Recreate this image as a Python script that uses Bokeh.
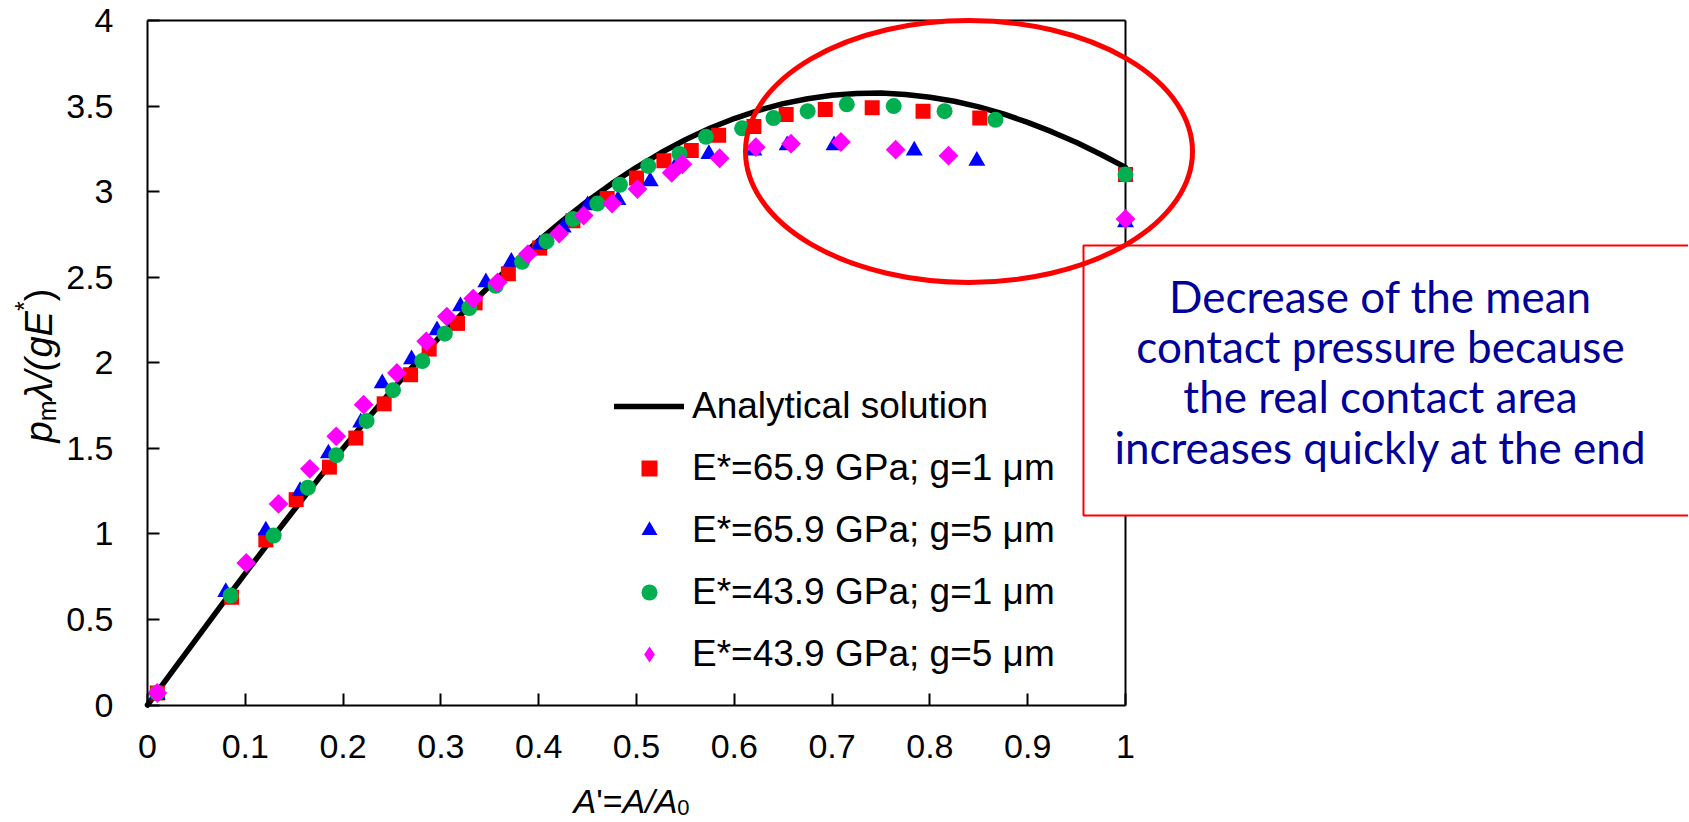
import math
from bokeh.plotting import figure
from bokeh.models import (Range1d, LinearAxis, FixedTicker, CustomJSTickFormatter,
                          BoxAnnotation, Label, Legend, LegendItem)
from bokeh.embed import file_html
from bokeh.resources import INLINE

# ---------------- data ----------------
curve_x = [0.0, 0.025, 0.05, 0.075, 0.10, 0.125, 0.15, 0.175, 0.20, 0.225, 0.25,
           0.275, 0.30, 0.325, 0.35, 0.375, 0.40, 0.425, 0.45, 0.475, 0.50,
           0.525, 0.55, 0.575, 0.60, 0.625, 0.65, 0.675, 0.70, 0.725, 0.75,
           0.775, 0.80, 0.825, 0.85, 0.875, 0.90, 0.925, 0.95, 0.975, 1.00]
curve_y = [0.0, 0.194, 0.387, 0.579, 0.769, 0.957, 1.141, 1.323, 1.500, 1.673, 1.840,
           2.002, 2.158, 2.308, 2.450, 2.586, 2.714, 2.833, 2.945, 3.048, 3.142,
           3.227, 3.303, 3.370, 3.427, 3.475, 3.514, 3.543, 3.563, 3.574, 3.576,
           3.568, 3.552, 3.528, 3.495, 3.454, 3.405, 3.349, 3.287, 3.217, 3.142]

sq_x = [0.01, 0.086, 0.121, 0.152, 0.186, 0.213, 0.242, 0.269, 0.288, 0.317, 0.335,
        0.369, 0.401, 0.435, 0.470, 0.500, 0.528, 0.556, 0.584, 0.620, 0.653, 0.693,
        0.741, 0.793, 0.851, 1.0]
sq_y = [0.07, 0.63, 0.965, 1.20, 1.39, 1.56, 1.76, 1.93, 2.08, 2.23, 2.35,
        2.52, 2.67, 2.83, 2.96, 3.08, 3.18, 3.24, 3.33, 3.38, 3.45, 3.48,
        3.49, 3.47, 3.43, 3.10]

tri_x = [0.01, 0.080, 0.121, 0.156, 0.185, 0.218, 0.240, 0.270, 0.296, 0.320, 0.346,
         0.372, 0.401, 0.425, 0.450, 0.481, 0.514, 0.543, 0.574, 0.620, 0.654, 0.702,
         0.784, 0.848, 1.0]
tri_y = [0.06, 0.66, 1.02, 1.25, 1.47, 1.65, 1.88, 2.02, 2.19, 2.33, 2.47,
         2.59, 2.69, 2.79, 2.92, 2.95, 3.06, 3.18, 3.22, 3.24, 3.27, 3.27,
         3.24, 3.18, 2.82]

cir_x = [0.01, 0.085, 0.129, 0.164, 0.193, 0.224, 0.251, 0.281, 0.304, 0.329, 0.356,
         0.383, 0.408, 0.435, 0.460, 0.483, 0.512, 0.544, 0.571, 0.608, 0.640, 0.675,
         0.715, 0.763, 0.815, 0.867, 1.0]
cir_y = [0.07, 0.64, 0.99, 1.27, 1.46, 1.66, 1.84, 2.01, 2.17, 2.32, 2.45,
         2.59, 2.71, 2.84, 2.93, 3.04, 3.15, 3.22, 3.32, 3.37, 3.43, 3.47,
         3.51, 3.50, 3.47, 3.42, 3.10]

dia_x = [0.01, 0.101, 0.134, 0.166, 0.193, 0.221, 0.255, 0.285, 0.306, 0.333, 0.358,
         0.389, 0.421, 0.446, 0.475, 0.501, 0.536, 0.547, 0.585, 0.622, 0.658, 0.709,
         0.765, 0.819, 1.0]
dia_y = [0.07, 0.83, 1.175, 1.38, 1.57, 1.755, 1.94, 2.125, 2.27, 2.375, 2.47,
         2.635, 2.755, 2.86, 2.93, 3.015, 3.11, 3.16, 3.195, 3.26, 3.28, 3.29,
         3.245, 3.21, 2.84]

x_ticks = [0.0, 0.1, 0.2, 0.3, 0.4, 0.5, 0.6, 0.7, 0.8, 0.9, 1.0]
y_ticks = [0.0, 0.5, 1.0, 1.5, 2.0, 2.5, 3.0, 3.5, 4.0]

legend_labels = ["Analytical solution",
                 "E*=65.9 GPa; g=1 \u03bcm",
                 "E*=65.9 GPa; g=5 \u03bcm",
                 "E*=43.9 GPa; g=1 \u03bcm",
                 "E*=43.9 GPa; g=5 \u03bcm"]

note_lines = ["Decrease of the mean",
              "contact pressure because",
              "the real contact area",
              "increases quickly at the end"]

# ---------------- layout helpers (page pixels -> data) ----------------
CW, CH = 1688, 821            # canvas = frame
X0_PX, PX_PER_X = 147.0, 978.0
Y0_PX, PX_PER_Y = 704.5, 171.125


def dx(px):
    return (px - X0_PX) / PX_PER_X


def dy(py):
    return (Y0_PX - py) / PX_PER_Y


FONT = "Liberation Sans"

p = figure(width=CW, height=CH, title=None, min_border=0,
           x_range=Range1d(dx(0), dx(CW)), y_range=Range1d(dy(CH), dy(0)),
           output_backend="svg", toolbar_location=None,
           background_fill_color="white", border_fill_color="white")
p.outline_line_color = None
p.xgrid.visible = False
p.ygrid.visible = False

fmt = CustomJSTickFormatter(code="return String(Math.round(tick*10)/10);")
for ax, ticks, bounds, standoff in ((p.xaxis[0], x_ticks, (0, 1), 30),
                                    (p.yaxis[0], y_ticks, (0, 4), 34)):
    ax.fixed_location = 0
    ax.bounds = bounds
    ax.ticker = FixedTicker(ticks=ticks)
    ax.formatter = fmt
    ax.major_tick_in = 12
    ax.major_tick_out = 0
    ax.minor_tick_line_color = None
    ax.axis_line_width = 2
    ax.major_tick_line_width = 2
    ax.major_label_text_font = FONT
    ax.major_label_text_font_size = "34px"
    ax.major_label_text_color = "black"
    ax.major_label_standoff = standoff

top_axis = LinearAxis(fixed_location=4, bounds=(0, 1), ticker=FixedTicker(ticks=[]),
                      axis_line_width=2, major_tick_line_color=None,
                      minor_tick_line_color=None, major_label_text_font_size="0px")
p.add_layout(top_axis, "above")
right_axis = LinearAxis(fixed_location=1, bounds=(0, 4), ticker=FixedTicker(ticks=[]),
                        axis_line_width=2, major_tick_line_color=None,
                        minor_tick_line_color=None, major_label_text_font_size="0px",
                        level="underlay")
p.add_layout(right_axis, "right")

# ---------------- series ----------------
line_r = p.line(curve_x, curve_y, line_color="black", line_width=5.5, line_cap="round")
sq_r = p.scatter(sq_x, sq_y, marker="square", size=15, fill_color="#FF0000", line_color=None)
tri_r = p.scatter(tri_x, tri_y, marker="triangle", size=17, fill_color="#0000FF", line_color=None)
cir_r = p.scatter(cir_x, cir_y, marker="circle", size=16, fill_color="#00B050", line_color=None)
dia_r = p.scatter(dia_x, dia_y, marker="square", angle=math.pi / 4, size=14,
                  fill_color="#FF00FF", line_color=None)
# hidden twin used only for the legend swatch (legend swatches ignore marker angle)
dia_key = p.scatter(dia_x, dia_y, marker="diamond", size=20, fill_color="#FF00FF",
                    line_color=None, visible=False)

legend = Legend(items=[LegendItem(label=legend_labels[0], renderers=[line_r]),
                       LegendItem(label=legend_labels[1], renderers=[sq_r]),
                       LegendItem(label=legend_labels[2], renderers=[tri_r]),
                       LegendItem(label=legend_labels[3], renderers=[cir_r]),
                       LegendItem(label=legend_labels[4], renderers=[dia_key])],
                location=(614, 146), orientation="vertical",
                border_line_color=None, background_fill_alpha=0,
                padding=0, margin=0, spacing=20,
                glyph_width=70, glyph_height=40, label_height=40, label_standoff=8,
                label_text_font=FONT, label_text_font_size="37px", label_text_color="black")
p.add_layout(legend)

# ---------------- annotation: text box and ellipse ----------------
box = BoxAnnotation(left=dx(1083), right=dx(1760), top=dy(245), bottom=dy(515),
                    fill_color="white", fill_alpha=1.0, line_color="#FF0000",
                    line_alpha=1.0, line_width=2)
p.add_layout(box)

baselines = [295, 345.5, 395.5, 446]
for txt, by in zip(note_lines, baselines):
    p.add_layout(Label(x=dx(1380), y=dy(by), text=txt, text_align="center",
                       text_baseline="alphabetic", text_font="Lato",
                       text_font_size="44px", text_color="#000099"))

ELL_CX, ELL_CY = dx(968.5), dy(151)
ELL_W, ELL_H = 447 / PX_PER_X, 262 / PX_PER_Y
p.ellipse(x=[ELL_CX], y=[ELL_CY], width=[ELL_W], height=[ELL_H], fill_color=None,
          line_color="#FF0000", line_width=5, level="overlay")

# ---------------- axis titles built from pieces ----------------
W = {"A": 0.667, "'": 0.191, "=": 0.584, "/": 0.278, "0": 0.556, "p": 0.556, "m": 0.833,
     "\u03bb": 0.52, "(": 0.333, "g": 0.556, "E": 0.667, "*": 0.389, ")": 0.333}


def tw(s, fs):
    return sum(W[c] for c in s) * fs


# x title
xfs = 34
x_pieces = [("A", xfs, "italic", 0), ("'=", xfs, "normal", 0), ("A/A", xfs, "italic", 0),
            ("0", 22, "normal", 7)]
cx = 573
for txt, fs, style, shift in x_pieces:
    p.add_layout(Label(x=dx(cx), y=dy(800 + shift), text=txt, text_align="left",
                       text_baseline="alphabetic", text_font=FONT, text_font_style=style,
                       text_font_size=f"{fs}px", text_color="black"))
    cx += tw(txt, fs)

# y title (rotated)
yfs = 38
y_pieces = [("p", yfs, "italic", 0), ("m", 25, "normal", 8), ("\u03bb/(", yfs, "italic", 0),
            ("gE", yfs, "italic", 0), ("*", 25, "normal", -15), (")", yfs, "normal", 0)]
cy = 442
for txt, fs, style, shift in y_pieces:
    p.add_layout(Label(x=dx(38 + shift), y=dy(cy), text=txt, text_align="left",
                       text_baseline="alphabetic", angle=math.pi / 2, angle_units="rad",
                       text_font=FONT, text_font_style=style,
                       text_font_size=f"{fs}px", text_color="black"))
    cy -= tw(txt, fs)

open("out.html", "w").write(file_html(p, INLINE))
